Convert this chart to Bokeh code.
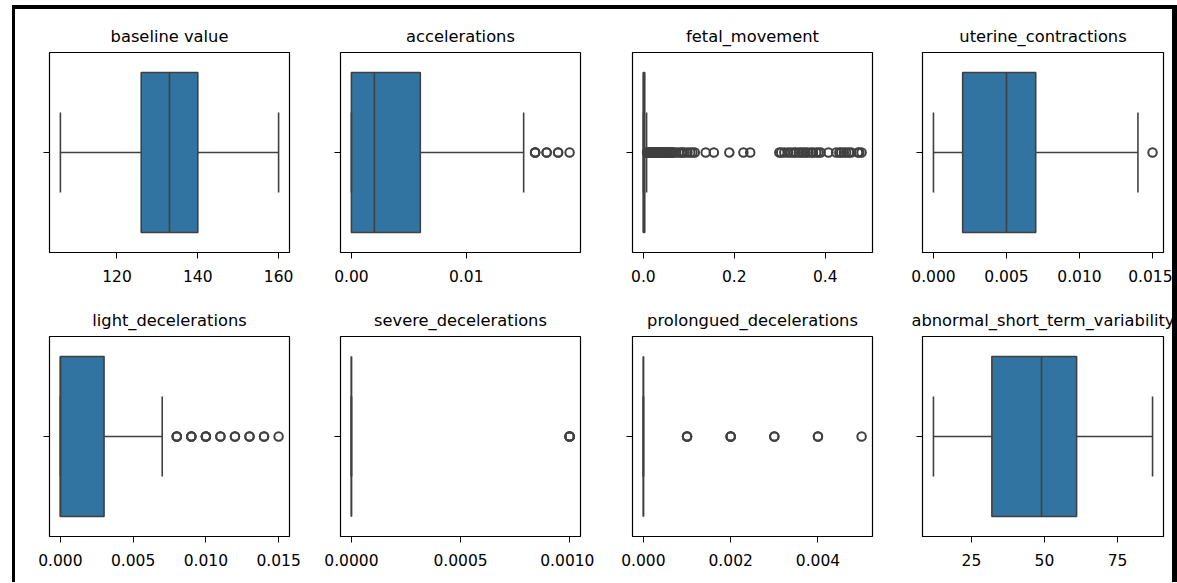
from bokeh.plotting import figure
from bokeh.layouts import row, column
from bokeh.models import Range1d, FixedTicker, NumeralTickFormatter, Div, Spacer
from bokeh.embed import file_html
from bokeh.resources import INLINE

# ---------------- data ----------------
titles = ["baseline value", "accelerations", "fetal_movement", "uterine_contractions",
          "light_decelerations", "severe_decelerations", "prolongued_decelerations",
          "abnormal_short_term_variability"]

# five-number summaries: [lower whisker, Q1, median, Q3, upper whisker]
baseline_value = [106, 126, 133, 140, 160]
accelerations = [0.0, 0.0, 0.002, 0.006, 0.015]
fetal_movement = [0.0, 0.0, 0.0, 0.003, 0.007]
uterine_contractions = [0.0, 0.002, 0.005, 0.007, 0.014]
light_decelerations = [0.0, 0.0, 0.0, 0.003, 0.007]
severe_decelerations = [0.0, 0.0, 0.0, 0.0, 0.0]
prolongued_decelerations = [0.0, 0.0, 0.0, 0.0, 0.0]
abnormal_short_term_variability = [12, 32, 49, 61, 87]

# outliers (repeated values appear as darker rings)
baseline_value_out = []
accelerations_out = [0.016, 0.016, 0.016, 0.017, 0.017, 0.018, 0.018, 0.019]
fetal_movement_out = [0.008, 0.009, 0.010, 0.011, 0.012, 0.013, 0.014, 0.015, 0.016, 0.017,
                      0.018, 0.019, 0.020, 0.021, 0.022, 0.023, 0.024, 0.025, 0.026, 0.027,
                      0.028, 0.029, 0.030, 0.031, 0.032, 0.033, 0.034, 0.035, 0.037, 0.038,
                      0.039, 0.040, 0.042, 0.044, 0.045, 0.047, 0.049, 0.051, 0.053, 0.055,
                      0.057, 0.059, 0.061, 0.063, 0.065, 0.067, 0.072, 0.078, 0.083, 0.086,
                      0.090, 0.097, 0.103, 0.108, 0.113, 0.137, 0.155, 0.189, 0.220, 0.235,
                      0.299, 0.303, 0.310, 0.318, 0.324, 0.331, 0.335, 0.342, 0.347, 0.352,
                      0.357, 0.362, 0.369, 0.373, 0.380, 0.385, 0.390, 0.407, 0.424, 0.431,
                      0.435, 0.441, 0.446, 0.452, 0.457, 0.472, 0.475, 0.480]
uterine_contractions_out = [0.015]
light_decelerations_out = [0.008, 0.008, 0.008, 0.009, 0.009, 0.009, 0.010, 0.010, 0.010,
                           0.011, 0.011, 0.012, 0.012, 0.013, 0.013, 0.014, 0.014, 0.015]
severe_decelerations_out = [0.001, 0.001, 0.001, 0.001]
prolongued_decelerations_out = [0.001, 0.001, 0.001, 0.002, 0.002, 0.002, 0.003, 0.003,
                                0.004, 0.004, 0.005]
abnormal_short_term_variability_out = []

# tick values and label formats
baseline_value_ticks = [120, 140, 160]
accelerations_ticks = [0.0, 0.01]
fetal_movement_ticks = [0.0, 0.2, 0.4]
uterine_contractions_ticks = [0.0, 0.005, 0.010, 0.015]
light_decelerations_ticks = [0.0, 0.005, 0.010, 0.015]
severe_decelerations_ticks = [0.0, 0.0005, 0.0010]
prolongued_decelerations_ticks = [0.0, 0.002, 0.004]
abnormal_short_term_variability_ticks = [25, 50, 75]
tick_formats = ["0", "0.00", "0.0", "0.000", "0.000", "0.0000", "0.000", "0"]

stats = [baseline_value, accelerations, fetal_movement, uterine_contractions,
         light_decelerations, severe_decelerations, prolongued_decelerations,
         abnormal_short_term_variability]
outs = [baseline_value_out, accelerations_out, fetal_movement_out, uterine_contractions_out,
        light_decelerations_out, severe_decelerations_out, prolongued_decelerations_out,
        abnormal_short_term_variability_out]
ticks = [baseline_value_ticks, accelerations_ticks, fetal_movement_ticks,
         uterine_contractions_ticks, light_decelerations_ticks, severe_decelerations_ticks,
         prolongued_decelerations_ticks, abnormal_short_term_variability_ticks]

# ---------------- style ----------------
BOX = "#3274a1"
LINE = "#404040"
LW = 1.6
FONT = "DejaVu Sans"

# per column: (left border, right border, frame width)
cols = [(34, 14, 240), (37, 14, 240), (38, 14, 240), (36, 9, 241)]
# per row: (top border, bottom border, title standoff)
rows_b = [(43, 36, 13), (48, 46, 14)]


def make_panel(i):
    c = i % 4
    r = i // 4
    bl, br, fw = cols[c]
    bt, bb, stand = rows_b[r]
    wl, q1, med, q3, wh = stats[i]
    allv = stats[i] + outs[i]
    lo, hi = min(allv), max(allv)
    pad = 0.05 * (hi - lo)
    p = figure(frame_width=fw, frame_height=200,
               x_range=Range1d(lo - pad, hi + pad), y_range=Range1d(0.5, -0.5),
               output_backend="svg", toolbar_location=None,
               min_border_left=bl, min_border_right=br,
               min_border_top=bt, min_border_bottom=bb)
    p.title.text = titles[i]
    p.title.align = "center"
    p.title.text_font = FONT
    p.title.text_font_size = "16.3px"
    p.title.text_font_style = "normal"
    p.title.text_color = "black"
    p.title.standoff = stand

    p.grid.visible = False
    p.outline_line_color = "black"
    p.outline_line_width = 1.2
    p.outline_line_alpha = 1.0
    p.background_fill_color = "white"
    p.border_fill_color = "white"

    p.xaxis.ticker = FixedTicker(ticks=ticks[i])
    p.xaxis.formatter = NumeralTickFormatter(format=tick_formats[i])
    p.xaxis.axis_line_color = None
    p.xaxis.major_tick_in = 0
    p.xaxis.major_tick_out = 6
    p.xaxis.major_tick_line_color = "black"
    p.xaxis.minor_tick_line_color = None
    p.xaxis.major_label_text_font = FONT
    p.xaxis.major_label_text_font_size = "15.5px"
    p.xaxis.major_label_text_color = "black"
    p.xaxis.major_label_standoff = 11

    p.yaxis.ticker = FixedTicker(ticks=[0])
    p.yaxis.axis_line_color = None
    p.yaxis.major_tick_in = 0
    p.yaxis.major_tick_out = 6
    p.yaxis.major_tick_line_color = "black"
    p.yaxis.minor_tick_line_color = None
    p.yaxis.major_label_text_color = None
    p.yaxis.major_label_overrides = {0: ""}
    p.yaxis.major_label_standoff = 0

    # box
    p.hbar(y=[0], left=[q1], right=[q3], height=0.8, fill_color=BOX,
           line_color=LINE, line_width=LW)
    # whiskers
    p.segment(x0=[wl, q3], y0=[0, 0], x1=[q1, wh], y1=[0, 0],
              line_color=LINE, line_width=LW)
    # caps
    p.segment(x0=[wl, wh], y0=[-0.2, -0.2], x1=[wl, wh], y1=[0.2, 0.2],
              line_color=LINE, line_width=LW)
    # median
    p.segment(x0=[med], y0=[-0.4], x1=[med], y1=[0.4], line_color=LINE, line_width=LW)
    # outliers
    if outs[i]:
        p.scatter(x=outs[i], y=[0] * len(outs[i]), marker="circle", size=8.5,
                  fill_color=None, line_color=LINE, line_width=2)
    return p


panels = [make_panel(i) for i in range(8)]
grid = column(row(*panels[:4]), row(*panels[4:]))
total_w = sum(b[0] + b[1] + b[2] for b in cols)
total_h = sum(b[0] + b[1] + 200 for b in rows_b)

black = {"background-color": "black"}
left_edge = Div(width=3, height=total_h, margin=0, styles=black)
right_edge = Div(width=5, height=total_h, margin=0, styles=black)
top_edge = Div(width=total_w + 8, height=4, margin=0, styles=black)
layout = column(
    Spacer(width=12 + total_w + 8, height=5, margin=0),
    row(Spacer(width=12, height=4, margin=0), top_edge),
    row(Spacer(width=12, height=total_h, margin=0), left_edge, grid, right_edge),
)

open("out.html", "w").write(file_html(layout, INLINE))
